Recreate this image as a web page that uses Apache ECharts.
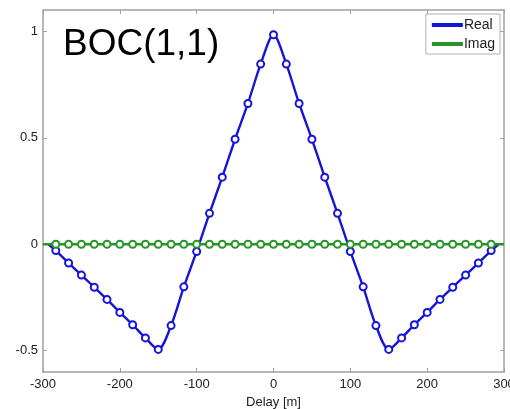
<!DOCTYPE html>
<html>
<head>
<meta charset="utf-8">
<script src="https://cdn.jsdelivr.net/npm/echarts@6/dist/echarts.min.js"></script>
<style>html,body{margin:0;padding:0;background:#fff}#c{width:510px;height:409px}</style>
</head>
<body>
<div id="c"></div>
<script>
// Delay [m] at marker positions
var markerDelay = [-283.3,-266.7,-250,-233.3,-216.7,-200,-183.3,-166.7,-150,-133.3,-116.7,-100,-83.3,-66.7,-50,-33.3,-16.7,0,
  16.7,33.3,50,66.7,83.3,100,116.7,133.3,150,166.7,183.3,200,216.7,233.3,250,266.7,283.3];
var realVals = [-0.03,-0.088,-0.145,-0.202,-0.259,-0.32,-0.378,-0.44,-0.494,-0.382,-0.2,-0.034,0.145,0.315,0.493,0.661,0.846,0.984,
  0.846,0.661,0.493,0.315,0.145,-0.034,-0.2,-0.382,-0.494,-0.44,-0.378,-0.32,-0.259,-0.202,-0.145,-0.088,-0.03];
var imagVals = [0,0,0,0,0,0,0,0,0,0,0,0,0,0,0,0,0,0,0,0,0,0,0,0,0,0,0,0,0,0,0,0,0,0,0];
var realEnds = [[-293,0],[293,0]];
var imagEnds = [[-300,0],[300,0]];
var yTicks = [-0.5,0,0.5,1];

function build(vals, ends){
  var d = [{value: ends[0], symbol: 'none'}];
  for (var i = 0; i < markerDelay.length; i++) d.push([markerDelay[i], vals[i]]);
  d.push({value: ends[1], symbol: 'none'});
  return d;
}

var chart = echarts.init(document.getElementById('c'), null, {renderer: 'canvas'});
var font = 'Liberation Sans, Arial, sans-serif';
var axisCol = '#a0a0a0';
var line = {show: true, onZero: false, lineStyle: {color: axisCol, width: 1.5}};
var tick = {show: true, inside: true, length: 4, lineStyle: {color: axisCol}};
chart.setOption({
  animation: false,
  backgroundColor: '#fff',
  grid: {left: 43, right: 6, top: 10, bottom: 37, containLabel: false, outerBoundsMode: 'none'},
  graphic: [{
    type: 'text', left: 63, top: 26,
    style: {text: 'BOC(1,1)', font: '37px Liberation Sans, Arial, sans-serif', fill: '#000'}
  }],
  legend: {
    orient: 'vertical', right: 10, top: 14,
    backgroundColor: '#fff', borderColor: '#b0b0b0', borderWidth: 1,
    padding: [4, 5, 3, 6], itemGap: 5,
    itemWidth: 29, itemHeight: 2, icon: 'rect',
    textStyle: {fontFamily: font, fontSize: 14, color: '#222', padding: [0,0,0,-3]},
    data: ['Real', 'Imag']
  },
  xAxis: [{
    type: 'value', min: -300, max: 300, interval: 100,
    name: 'Delay [m]', nameLocation: 'middle', nameGap: 24,
    nameTextStyle: {fontFamily: font, fontSize: 13, color: '#222'},
    axisLine: line, axisTick: tick,
    axisLabel: {fontFamily: font, fontSize: 13, color: '#222', margin: 6},
    splitLine: {show: false}
  }, {
    type: 'value', position: 'top', min: -300, max: 300, interval: 100,
    axisLine: line, axisTick: tick,
    axisLabel: {show: false}, splitLine: {show: false}
  }],
  yAxis: [{
    type: 'value', min: -0.6, max: 1.1,
    axisLine: line,
    axisTick: {show: true, inside: true, length: 4, lineStyle: {color: axisCol}, customValues: yTicks},
    axisLabel: {fontFamily: font, fontSize: 13, color: '#222', margin: 5, customValues: yTicks},
    splitLine: {show: false}
  }, {
    type: 'value', position: 'right', min: -0.6, max: 1.1,
    axisLine: line,
    axisTick: {show: true, inside: true, length: 4, lineStyle: {color: axisCol}, customValues: yTicks},
    axisLabel: {show: false, customValues: yTicks}, splitLine: {show: false}
  }],
  series: [{
    name: 'Real', type: 'line', xAxisIndex: 0, yAxisIndex: 0,
    data: build(realVals, realEnds), smooth: 0.3,
    color: '#1515d8',
    lineStyle: {width: 2.4, color: '#1515d8'},
    symbol: 'emptyCircle', symbolSize: 7,
    itemStyle: {color: '#1515d8', borderWidth: 1.6, borderColor: '#1515d8'}
  }, {
    name: 'Imag', type: 'line', xAxisIndex: 0, yAxisIndex: 0,
    data: build(imagVals, imagEnds),
    color: '#2a932a',
    lineStyle: {width: 2.4, color: '#2a932a'},
    symbol: 'emptyCircle', symbolSize: 7,
    itemStyle: {color: '#2a932a', borderWidth: 1.6, borderColor: '#2a932a'}
  }]
});
</script>
</body>
</html>
